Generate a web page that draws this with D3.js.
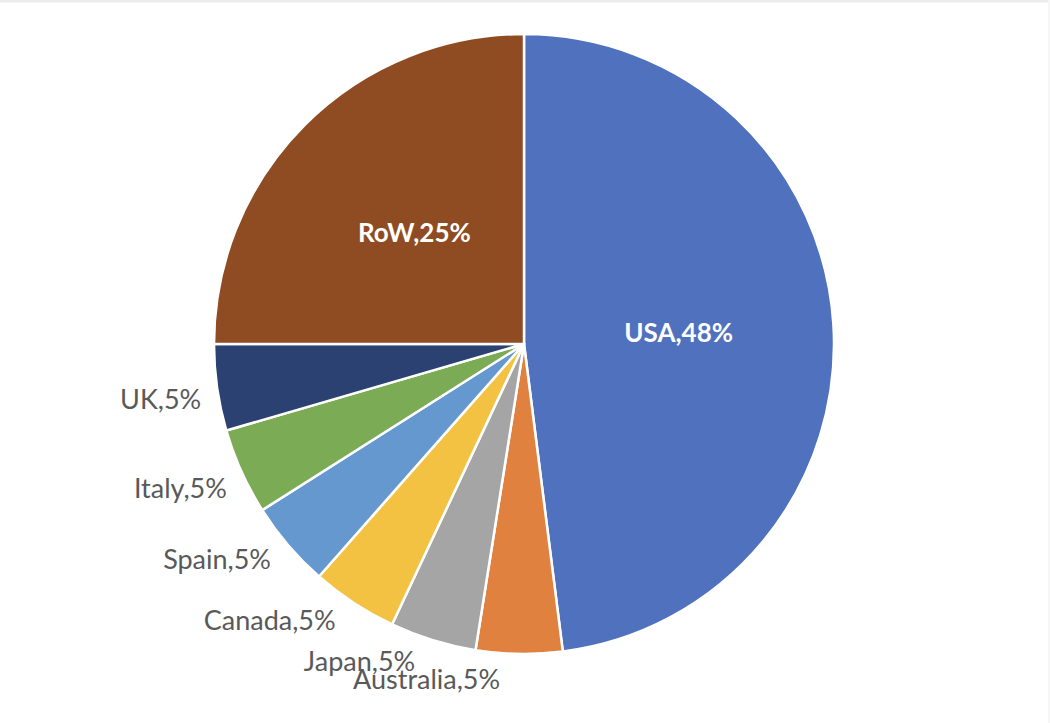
<!DOCTYPE html>
<html>
<head>
<meta charset="utf-8">
<script src="https://cdn.jsdelivr.net/npm/d3@7"></script>
<style>
  html, body { margin: 0; padding: 0; background: #fff; }
  svg { display: block; }
</style>
</head>
<body>
<div class="canvas"></div>
<script>
// data
const countries = ['USA', 'Australia', 'Japan', 'Canada', 'Spain', 'Italy', 'UK', 'RoW'];
const shares = [48, 4.5, 4.5, 4.5, 4.5, 4.5, 4.5, 25];

// styles
const palette = ['#4f71be', '#e0813f', '#a5a5a5', '#f4c242', '#6698d0', '#7bab55', '#2b4172', '#8f4c22'];
// small angular nudge (degrees) for outside labels, like Excel's overlap shuffle
const labelNudge = [0, 3.3, 2.4, 2, 1.4, 0, 0, 0];

const width = 1050, height = 723;
const cx = 524, cy = 344, radius = 310;
const labelGap = 326;   // where the label's nearest corner sits
const halfH = 13;

const svg = d3.select('.canvas').append('svg')
    .attr('width', width)
    .attr('height', height);

// faint frame at the top edge
svg.append('line')
    .attr('x1', 0).attr('x2', width)
    .attr('y1', 1).attr('y2', 1)
    .attr('stroke', '#ececec')
    .attr('stroke-width', 3);
svg.append('line')
    .attr('x1', width - 1).attr('x2', width - 1)
    .attr('y1', 0).attr('y2', height)
    .attr('stroke', '#f6f6f6')
    .attr('stroke-width', 2);

const graph = svg.append('g')
    .attr('transform', `translate(${cx}, ${cy})`);

const rows = countries.map((c, i) => ({ name: c, value: shares[i], i }));

const pie = d3.pie()
    .sort(null)
    .value(d => d.value);

const arc = d3.arc()
    .innerRadius(0)
    .outerRadius(radius);

const slices = pie(rows);

graph.selectAll('path.slice')
    .data(slices)
    .join('path')
    .attr('class', 'slice')
    .attr('d', arc)
    .attr('fill', d => palette[d.data.i])
    .attr('stroke', '#fff')
    .attr('stroke-width', 2.5)
    .attr('stroke-linejoin', 'round');

const labelText = d => `${d.data.name},${Math.round(d.data.value)}%`;

// big slices: label inside at the centroid
graph.selectAll('text.inside')
    .data(slices.filter(d => d.data.value >= 20))
    .join('text')
    .attr('class', 'inside')
    .attr('transform', d => `translate(${arc.centroid(d)})`)
    .attr('text-anchor', 'middle')
    .attr('dominant-baseline', 'central')
    .attr('dy', -2)
    .attr('font-family', 'Lato, "Open Sans", sans-serif')
    .attr('font-size', 26)
    .attr('font-weight', 'bold')
    .attr('fill', '#fff')
    .text(labelText);

// small slices: label outside, nearest box corner on the anchor point
graph.selectAll('text.outside')
    .data(slices.filter(d => d.data.value < 20))
    .join('text')
    .attr('class', 'outside')
    .attr('text-anchor', 'middle')
    .attr('dominant-baseline', 'central')
    .attr('dy', -4)
    .attr('font-family', 'Lato, "Open Sans", sans-serif')
    .attr('font-size', 27)
    .attr('fill', '#595959')
    .text(labelText)
    .each(function(d) {
        const w = this.getComputedTextLength();
        const phi = (d.startAngle + d.endAngle) / 2 + labelNudge[d.data.i] * Math.PI / 180;
        const sx = Math.sign(Math.sin(phi)), sy = Math.sign(-Math.cos(phi));
        const x = labelGap * Math.sin(phi) + sx * w / 2;
        const y = -labelGap * Math.cos(phi) + sy * halfH;
        d3.select(this).attr('x', x).attr('y', y);
    });
</script>
</body>
</html>
